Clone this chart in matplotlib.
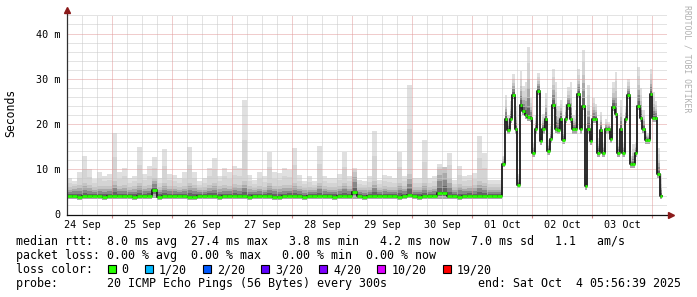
import numpy as np
import matplotlib
matplotlib.use("Agg")
import matplotlib.pyplot as plt
from matplotlib.lines import Line2D
from matplotlib.patches import Rectangle
from datetime import datetime, timedelta

# graph window: 10 days ending at the "end:" stamp
end_time = datetime(2025, 10, 4, 5, 56, 39)
start_time = end_time - timedelta(days=10)

# 24 Sep .. 01 Oct 00:00, 2 hour bins (ms)
sep_med = [4.0, 4.0, 3.9, 4.0, 4.0, 4.1, 4.0, 3.9, 4.0, 4.0, 4.1, 4.0, 4.0, 3.9, 4.0, 4.0, 4.1, 5.5, 3.9, 4.0, 4.0,
           4.0, 4.1, 4.0, 3.9, 3.9, 4.0, 4.0, 4.1, 4.0, 3.9, 4.0, 4.0, 4.1, 4.0, 4.0, 3.9, 4.0, 4.0, 4.1, 4.0, 3.9, 3.9,
           4.0, 4.1, 4.0, 4.0, 3.9, 4.0, 4.0, 4.1, 4.0, 4.0, 3.9, 4.0, 4.1, 4.0, 5.0, 4.0, 3.9, 4.0, 4.0, 4.1, 4.0, 4.0,
           4.0, 3.9, 4.0, 4.4, 4.0, 3.9, 4.0, 4.0, 4.1, 4.8, 4.8, 4.0, 4.0, 3.9, 4.0, 4.1, 4.0, 4.0, 4.0, 4.1, 4.0, 4.0]
sep_lo = [3.4, 3.4, 3.3, 3.4, 3.4, 3.5, 3.4, 3.3, 3.4, 3.4, 3.5, 3.4, 3.4, 3.3, 3.4, 3.4, 3.5, 3.6, 3.3, 3.4, 3.4,
          3.4, 3.5, 3.4, 3.3, 3.3, 3.4, 3.4, 3.5, 3.4, 3.3, 3.4, 3.4, 3.5, 3.4, 3.4, 3.3, 3.4, 3.4, 3.5, 3.4, 3.3, 3.3,
          3.4, 3.5, 3.4, 3.4, 3.3, 3.4, 3.4, 3.5, 3.4, 3.4, 3.3, 3.4, 3.5, 3.4, 3.5, 3.4, 3.3, 3.4, 3.4, 3.5, 3.4, 3.4,
          3.4, 3.3, 3.4, 3.6, 3.4, 3.3, 3.4, 3.4, 3.5, 3.5, 3.5, 3.4, 3.4, 3.3, 3.4, 3.5, 3.4, 3.4, 3.4, 3.5, 3.4, 3.4]
sep_hi = [6.0, 6.2, 6.5, 7.0, 6.5, 6.0, 6.3, 6.2, 6.3, 7.5, 6.2, 6.5, 6.0, 6.2, 7.0, 6.3, 6.5, 8.0, 6.0, 7.0, 6.3,
          6.2, 6.0, 6.3, 7.0, 6.5, 5.8, 6.0, 6.5, 7.0, 6.2, 6.5, 6.3, 6.8, 6.5, 7.5, 6.2, 5.8, 6.3, 6.0, 7.0, 6.3, 6.2,
          6.5, 6.5, 7.0, 6.2, 5.8, 6.0, 5.8, 7.0, 6.2, 6.0, 6.0, 6.3, 7.0, 6.2, 9.5, 5.8, 5.8, 6.0, 7.5, 5.8, 6.2, 6.0,
          6.0, 7.0, 6.2, 9.0, 6.0, 6.0, 7.0, 6.0, 6.2, 10.0, 10.5, 8.0, 6.0, 6.8, 6.2, 6.3, 6.5, 7.5, 7.0, 6.0, 6.0, 6.0]
sep_top = [8.0, 7.5, 9.5, 13.0, 10.0, 7.8, 9.5, 8.5, 9.0, 18.0, 9.5, 10.3, 8.0, 8.5, 15.0, 9.0, 10.7, 12.7, 8.0, 14.4, 9.0,
           8.8, 8.1, 9.5, 15.0, 9.5, 7.3, 8.1, 10.3, 12.5, 8.4, 10.3, 9.5, 10.7, 10.3, 25.3, 8.8, 7.7, 9.5, 8.4, 13.9, 9.5, 9.2,
           10.3, 9.9, 14.7, 8.8, 7.5, 8.4, 7.3, 15.2, 8.4, 8.1, 8.1, 9.0, 13.9, 8.4, 10.3, 7.7, 7.3, 8.4, 18.5, 7.7, 8.8, 8.4,
           8.1, 13.9, 8.4, 28.6, 8.0, 8.1, 16.4, 8.1, 8.4, 11.2, 10.5, 13.7, 7.7, 10.7, 8.4, 8.8, 9.2, 17.3, 13.7, 7.7, 7.7, 7.7]

# 01 Oct .. 04 Oct, 1 hour bins (ms)
oct_med = [11.2, 21.2, 18.7, 21.2, 26.4, 18.8, 6.6, 24.2, 22.9, 22.0, 21.5, 21.4, 13.7, 18.8, 27.3, 16.3,
           18.8, 21.2, 14.1, 16.6, 24.3, 19.0, 18.7, 21.2, 16.5, 21.2, 24.1, 21.2, 18.8, 18.8, 26.6, 18.8,
           24.0, 6.2, 18.8, 16.3, 21.2, 21.2, 13.7, 18.7, 13.7, 18.8, 18.8, 16.6, 23.8, 22.2, 13.7, 18.8,
           13.7, 21.2, 26.4, 11.1, 11.1, 13.7, 24.0, 21.4, 18.9, 16.5, 16.5, 26.6, 21.4, 21.4, 8.9, 4.0]
oct_lo = [10.4, 20.3, 17.8, 20.3, 25.5, 17.9, 5.9, 23.3, 22.0, 21.1, 20.6, 20.5, 12.8, 17.9, 26.4, 15.4,
          17.9, 20.3, 13.2, 15.7, 23.4, 18.1, 17.8, 20.3, 15.6, 20.3, 23.2, 20.3, 17.9, 17.9, 25.7, 17.9,
          23.1, 5.5, 17.9, 15.4, 20.3, 20.3, 12.8, 17.8, 12.8, 17.9, 17.9, 15.7, 22.9, 21.3, 12.8, 17.9,
          12.8, 20.3, 25.5, 10.3, 10.3, 12.8, 23.1, 20.5, 18.0, 15.6, 15.6, 25.7, 20.5, 20.5, 8.0, 3.4]
oct_hi = [12.2, 24.0, 20.5, 23.3, 29.0, 21.6, 7.9, 28.3, 26.0, 26.0, 30.0, 23.8, 15.0, 20.6, 29.5, 17.8,
          20.7, 24.3, 15.4, 18.2, 28.6, 24.7, 21.6, 23.5, 18.3, 23.0, 26.3, 25.7, 20.6, 21.1, 29.6, 21.4,
          30.8, 7.7, 24.2, 18.3, 23.7, 23.0, 15.5, 20.9, 15.0, 20.0, 19.7, 18.2, 26.8, 27.3, 15.2, 22.4,
          15.0, 22.7, 28.4, 12.1, 13.5, 15.0, 28.7, 25.0, 21.2, 17.6, 17.3, 29.7, 24.5, 23.4, 12.1, 6.7]
oct_top = [13.0, 26.4, 22.0, 25.0, 31.1, 24.0, 9.0, 31.7, 28.5, 29.3, 37.0, 25.7, 16.0, 22.0, 31.3, 19.0,
           22.2, 26.8, 16.5, 19.5, 32.1, 29.3, 24.0, 25.3, 19.7, 24.5, 28.1, 29.3, 22.0, 23.0, 32.1, 23.5,
           36.4, 9.0, 28.6, 20.0, 25.7, 24.5, 17.0, 22.7, 16.0, 21.0, 20.5, 19.5, 29.3, 31.5, 16.5, 25.3,
           16.0, 24.0, 30.0, 13.0, 15.5, 16.0, 32.6, 27.9, 23.0, 18.5, 18.0, 32.2, 27.0, 25.0, 14.7, 9.0]

loss_labels = ["0", "1/20", "2/20", "3/20", "4/20", "10/20", "19/20"]
loss_colors = ["#26ff00", "#00b8ff", "#0059ff", "#5e00ff", "#7e00ff", "#dd00ff", "#ff0000"]

# bins in hours since start
sep_left = np.arange(len(sep_med)) * 2.0
oct_left = sep_left[-1] + 2.0 + np.arange(len(oct_med)) * 1.0
left = np.concatenate([sep_left, oct_left])
right = np.concatenate([sep_left + 2.0, oct_left + 1.0])
med = np.array(sep_med + oct_med)
lo = np.array(sep_lo + oct_lo)
hi = np.array(sep_hi + oct_hi)
top = np.array(sep_top + oct_top)

xs = np.column_stack([left, right]).ravel()
def rep(v):
    return np.repeat(v, 2)

W, H = 697, 297
fig = plt.figure(figsize=(W / 100, H / 100), dpi=100)
def fx(x):
    return x / W
def fy(y):
    return 1 - y / H

mono = "DejaVu Sans Mono"
plt.rcParams["font.family"] = mono

ax = fig.add_axes([fx(67), fy(214.5), 600 / W, 200 / H])
ax.set_xlim(0, 240)
ax.set_ylim(0, 44.2)
for s in ax.spines.values():
    s.set_visible(False)

# smoke
mid = (lo + med) / 2
ax.fill_between(xs, rep(lo), rep(mid), color="#a8a8a8", lw=0, zorder=1)
ax.fill_between(xs, rep(mid), rep(med), color="#747474", lw=0, zorder=1)
up_cols = ["#646464", "#888888", "#aaaaaa", "#c4c4c4"]
for i, c in enumerate(up_cols):
    a = med + (hi - med) * i / 4
    b = med + (hi - med) * (i + 1) / 4
    ax.fill_between(xs, rep(a), rep(b), color=c, lw=0, zorder=1)
half = (hi + top) / 2
ax.fill_between(xs, rep(hi), rep(half), color="#d4d4d4", lw=0, zorder=1)
ax.fill_between(xs, rep(half), rep(top), color="#e0e0e0", lw=0, zorder=1)

# grid, dotted
first_midnight = (datetime(2025, 9, 25) - start_time).total_seconds() / 3600
midnights = first_midnight + 24 * np.arange(10)
six_h = first_midnight - 18 + 6 * np.arange(41)
six_h = six_h[(six_h > 0.5) & (six_h < 240)]
noons = first_midnight - 12 + 24 * np.arange(10)
dots = (0, (1, 1))
gkw = dict(lw=0.72, ls=dots, zorder=2)
for t in six_h:
    if np.min(np.abs(midnights - t)) > 0.1:
        ax.axvline(t, color="#c8c8c8", **gkw)
for v in range(2, 45, 2):
    if v % 10:
        ax.axhline(v, color="#c8c8c8", **gkw)
for t in midnights:
    ax.axvline(t, color="#e39a9a", **gkw)
for v in range(10, 45, 10):
    ax.axhline(v, color="#e39a9a", **gkw)

# median line, green = 0 loss
ax.plot(xs, rep(med), color="#1a1a1a", lw=1.3, zorder=3)
ax.hlines(med, left, right, color=loss_colors[0], lw=2.0, zorder=4)

# ticks
ax.set_yticks([0, 10, 20, 30, 40])
ax.set_yticklabels(["0", "10 m", "20 m", "30 m", "40 m"])
ax.tick_params(axis="y", length=0, pad=5, labelsize=7.3)
ax.set_xticks(midnights)
ax.set_xticklabels([""] * len(midnights))
ax.tick_params(axis="x", which="major", length=2.5, color="#d08080", width=0.8)
ax.set_xticks(noons, minor=True)
ax.set_xticklabels([(start_time + timedelta(days=int(d))).strftime("%d %b") for d in range(10)], minor=True)
ax.tick_params(axis="x", which="minor", length=0, pad=4, labelsize=7.3)

# axes with arrows
fig.add_artist(Line2D([fx(67), fx(67)], [fy(214.5), fy(11)], color="#303030", lw=0.9))
fig.add_artist(Line2D([fx(67), fx(669)], [fy(214.5), fy(214.5)], color="#101010", lw=0.9))
fig.add_artist(Line2D([fx(67)], [fy(10)], marker="^", ms=4.5, color="#8b1a1a", lw=0))
fig.add_artist(Line2D([fx(670.5)], [fy(214.5)], marker=">", ms=4.5, color="#8b1a1a", lw=0))

fig.text(fx(11), fy(113), "Seconds", rotation=90, ha="center", va="center", fontsize=8.3)
fig.text(fx(687), fy(5), "RRDTOOL / TOBI OETIKER", rotation=-90, ha="center", va="top",
         fontsize=5.9, color="#b0b0b0")

# legend
cw = 6.97
fs = 8.35
line1 = "median rtt:  8.0 ms avg  27.4 ms max   3.8 ms min   4.2 ms now   7.0 ms sd   1.1   am/s"
line2 = "packet loss: 0.00 % avg  0.00 % max   0.00 % min  0.00 % now"
fig.text(fx(16), fy(245), line1, fontsize=fs, va="baseline")
fig.text(fx(16), fy(259.2), line2, fontsize=fs, va="baseline")
fig.text(fx(16), fy(273.3), "loss color:", fontsize=fs, va="baseline")
bx = 108.0
for lab, col in zip(loss_labels, loss_colors):
    fig.add_artist(Rectangle((fx(bx), fy(273)), 8 / W, 8 / H, facecolor=col,
                             edgecolor="black", lw=0.8))
    fig.text(fx(bx + 13.7), fy(273.3), lab, fontsize=fs, va="baseline")
    bx += 13.7 + len(lab) * cw + 16.5
fig.text(fx(16), fy(287.3), "probe:       20 ICMP Echo Pings (56 Bytes) every 300s", fontsize=fs, va="baseline")
fig.text(fx(681), fy(287.3), "end: " + end_time.strftime("%a %b ") + "%2d" % end_time.day
         + end_time.strftime(" %H:%M:%S %Y"), fontsize=fs, va="baseline", ha="right")

fig.savefig("out.png", dpi=100)
